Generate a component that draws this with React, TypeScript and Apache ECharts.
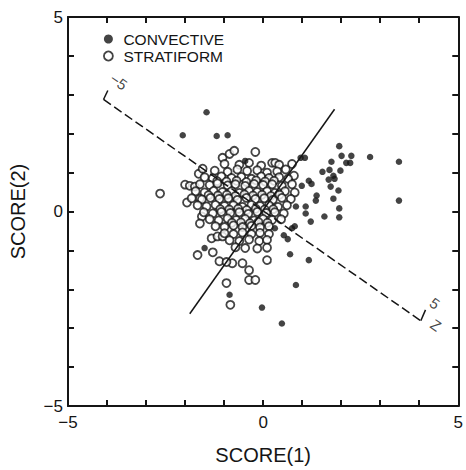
import React, { useEffect, useRef } from "react";
import * as echarts from "echarts";

const labeledTicks = [-5, 0, 5];
const seriesNames = ["CONVECTIVE", "STRATIFORM"];

const convective: number[][] = [
  [1.95, 1.68], [2.01, 1.43], [2.26, 1.43], [2.74, 1.40], [3.48, 1.28], [1.75, 1.28],
  [2.13, 1.25], [2.23, 1.25], [1.52, 1.02], [1.70, 1.07], [1.98, 1.05], [1.80, 0.92],
  [1.68, 0.82], [1.83, 0.84], [0.96, 1.38], [1.07, 1.38], [1.17, 0.79], [1.24, 0.71],
  [0.99, 0.66], [1.73, 0.64], [1.93, 0.54], [1.37, 0.41], [1.35, 0.28], [1.80, 0.33],
  [3.48, 0.28], [1.09, 0.13], [0.84, 0.13], [1.09, -0.05], [1.95, 0.08], [1.57, -0.13],
  [1.95, -0.15], [1.22, -0.26], [0.30, -0.43], [0.53, -0.61], [0.63, -0.71], [0.69, -1.10],
  [1.17, -1.25], [-1.50, -0.94], [-0.86, -2.14], [0.84, -1.89], [-0.03, -2.47], [0.48, -2.88],
  [-1.45, 2.55], [-2.06, 1.96], [-1.19, 1.94], [-0.91, 1.96], [-0.46, 1.30], [0.74, -0.43],
  [0.81, -0.38],
];

const stratiform: number[][] = [
  // outlying points
  [-1.04, 1.38], [-0.86, 1.48], [-0.74, 1.56], [-0.20, 1.53], [0.23, 1.25], [0.31, 1.25],
  [0.74, 1.22], [0.79, 0.92], [-1.65, 0.97], [-1.55, 1.10], [-2.0, 0.69], [-1.88, 0.66],
  [-1.75, 0.64], [-2.64, 0.46], [-1.95, 0.23], [-1.62, 0.33],
  [-0.84, -2.40], [-0.94, -1.84], [-0.36, -1.76], [-0.20, -1.76], [-0.36, -1.51], [0.10, -1.25],
  [-0.79, -1.33], [-0.53, -1.33], [-1.12, -1.28], [-0.94, -1.30], [-1.29, -1.05], [-1.68, -1.12],
  [-1.32, -0.69], [-1.17, -0.64], [-1.04, -0.64], [-1.57, -0.13], [-1.62, -0.31],
  // core
  [-0.99, 1.22], [-0.61, 1.20], [-0.36, 1.25], [-0.05, 1.18], [0.41, 1.20],
  [-1.24, 1.05], [-0.91, 1.02], [-0.66, 1.08], [-0.41, 1.04], [-0.15, 1.06], [0.10, 1.00], [0.36, 1.03], [0.58, 1.08],
  [-1.50, 0.88], [-1.29, 0.85], [-1.07, 0.90], [-0.81, 0.86], [-0.56, 0.89], [-0.30, 0.84], [-0.05, 0.90], [0.15, 0.86], [0.41, 0.88], [0.64, 0.84],
  [-1.18, 0.78], [-0.94, 0.77], [-0.68, 0.79], [-0.43, 0.76], [-0.18, 0.80], [0.05, 0.77], [0.28, 0.79],
  [-1.62, 0.70], [-1.37, 0.68], [-1.17, 0.72], [-0.91, 0.67], [-0.71, 0.70], [-0.46, 0.66], [-0.23, 0.71], [0.0, 0.68], [0.23, 0.70], [0.48, 0.66], [0.74, 0.70],
  [-1.73, 0.52], [-1.50, 0.49], [-1.27, 0.53], [-1.04, 0.50], [-0.81, 0.52], [-0.61, 0.48], [-0.36, 0.53], [-0.15, 0.50], [0.10, 0.52], [0.30, 0.48], [0.56, 0.52], [0.81, 0.49],
  [-1.40, 0.42], [-1.16, 0.41], [-0.93, 0.43], [-0.71, 0.40], [-0.48, 0.44], [-0.26, 0.41], [-0.03, 0.43], [0.20, 0.40], [0.42, 0.43],
  [-1.83, 0.34], [-1.57, 0.31], [-1.35, 0.35], [-1.12, 0.32], [-0.89, 0.34], [-0.66, 0.30], [-0.43, 0.35], [-0.20, 0.32], [0.03, 0.34], [0.25, 0.30], [0.48, 0.35], [0.71, 0.32],
  [-1.68, 0.16], [-1.45, 0.13], [-1.22, 0.17], [-0.99, 0.14], [-0.76, 0.16], [-0.53, 0.12], [-0.30, 0.17], [-0.08, 0.14], [0.15, 0.16], [0.38, 0.12], [0.61, 0.16],
  [-1.10, 0.06], [-0.87, 0.05], [-0.64, 0.07], [-0.42, 0.04], [-0.19, 0.07], [0.04, 0.05], [0.26, 0.06],
  [-1.52, -0.02], [-1.29, -0.05], [-1.07, -0.01], [-0.84, -0.04], [-0.61, -0.02], [-0.38, -0.06], [-0.15, -0.01], [0.08, -0.04], [0.30, -0.02], [0.53, -0.05],
  [-1.37, -0.20], [-1.14, -0.23], [-0.91, -0.18], [-0.69, -0.22], [-0.46, -0.19], [-0.23, -0.23], [0.0, -0.19], [0.23, -0.22], [0.46, -0.20],
  [-0.80, -0.29], [-0.57, -0.28], [-0.34, -0.30], [-0.12, -0.27], [0.11, -0.29],
  [-1.22, -0.38], [-0.99, -0.40], [-0.76, -0.36], [-0.53, -0.40], [-0.30, -0.37], [-0.08, -0.41], [0.15, -0.38],
  [-0.99, -0.56], [-0.76, -0.58], [-0.53, -0.54], [-0.30, -0.58], [-0.08, -0.55], [0.15, -0.58],
  [-0.86, -0.74], [-0.61, -0.76], [-0.36, -0.72], [-0.10, -0.76], [0.10, -0.73],
  [-0.71, -0.92], [-0.46, -0.94], [-0.15, -0.95], [0.10, -0.93],
];

const solidAxis: number[][] = [[-1.88, -2.63], [1.83, 2.63]];
const dashedAxis: number[][] = [[-4.09, 2.88], [4.04, -2.81]];
const dashedEndTicks: number[][][] = [
  [[-4.09, 2.88], [-3.98, 3.11]],
  [[4.04, -2.81], [4.16, -2.53]],
];
const endLabelPos: number[][] = [[-3.70, 3.34], [4.40, -2.36], [4.43, -2.92]];
const endLabelText = ["\u22125", "5", "Z"];

const INK = "#151515";
const FONT = "'Liberation Sans', Arial, Helvetica, sans-serif";

function fmt(v: number): string {
  if (!labeledTicks.includes(v)) return "";
  return v < 0 ? "\u2212" + Math.abs(v) : String(v);
}

export default function App() {
  const ref = useRef<HTMLDivElement>(null);
  useEffect(() => {
    if (!ref.current) return;
    const chart = echarts.init(ref.current, undefined, { renderer: "svg" });
    const axisCommon = {
      type: "value" as const,
      min: -5,
      max: 5,
      interval: 1,
      axisLine: { show: true, onZero: false, lineStyle: { color: INK, width: 2 } },
      axisTick: { show: true, inside: true, length: 6, lineStyle: { color: INK, width: 2 } },
      splitLine: { show: false },
    };
    const labelStyle = { color: INK, fontSize: 17, fontFamily: FONT };
    chart.setOption({
      animation: false,
      backgroundColor: "#ffffff",
      grid: { left: 67, right: 5, top: 17, bottom: 61 },
      legend: {
        orient: "vertical",
        left: 103,
        top: 31,
        padding: 0,
        itemWidth: 10,
        itemHeight: 9,
        itemGap: 1,
        selectedMode: false,
        textStyle: { color: INK, fontSize: 15.5, fontFamily: FONT, lineHeight: 16, padding: [0, 0, 0, 5] },
        data: [
          { name: seriesNames[0], icon: "circle", itemStyle: { color: INK, borderWidth: 0 } },
          { name: seriesNames[1], icon: "circle", itemStyle: { color: "#fff", borderColor: INK, borderWidth: 1.8 } },
        ],
      },
      xAxis: [
        {
          ...axisCommon,
          position: "bottom",
          axisLabel: { ...labelStyle, margin: 8, formatter: fmt, showMaxLabel: true, showMinLabel: true },
          name: "SCORE(1)",
          nameLocation: "middle",
          nameGap: 39,
          nameTextStyle: { color: INK, fontSize: 20, fontFamily: FONT },
        },
        { ...axisCommon, position: "top", axisLabel: { show: false } },
      ],
      yAxis: [
        {
          ...axisCommon,
          position: "left",
          axisLabel: { ...labelStyle, margin: 5, formatter: fmt, showMaxLabel: true, showMinLabel: true },
          name: "SCORE(2)",
          nameLocation: "middle",
          nameGap: 40,
          nameRotate: 90,
          nameTextStyle: { color: INK, fontSize: 20, fontFamily: FONT },
        },
        { ...axisCommon, position: "right", axisLabel: { show: false } },
      ],
      series: [
        {
          name: seriesNames[0],
          type: "scatter",
          data: convective,
          symbol: "circle",
          symbolSize: 6.5,
          itemStyle: { color: INK },
          z: 4,
        },
        {
          name: seriesNames[1],
          type: "scatter",
          data: stratiform,
          symbol: "circle",
          symbolSize: 8,
          itemStyle: { color: "#fff", borderColor: INK, borderWidth: 1.8 },
          z: 3,
        },
        {
          name: "solid",
          type: "line",
          data: solidAxis,
          symbol: "none",
          lineStyle: { color: INK, width: 1.5 },
          z: 5,
          silent: true,
        },
        {
          name: "dashed",
          type: "line",
          data: dashedAxis,
          symbol: "none",
          lineStyle: { color: INK, width: 1.5, type: [9, 4] },
          z: 5,
          silent: true,
        },
        ...dashedEndTicks.map((seg, i) => ({
          name: "tick" + i,
          type: "line",
          data: seg,
          symbol: "none",
          lineStyle: { color: INK, width: 1.5 },
          z: 5,
          silent: true,
        })),
        {
          name: "endLabels",
          type: "scatter",
          symbolSize: 0,
          data: endLabelPos.map((p, i) => ({ value: p, name: endLabelText[i] })),
          label: {
            show: true,
            position: "inside",
            formatter: (p: any) => p.name,
            rotate: -35,
            color: INK,
            fontSize: 15,
            fontFamily: FONT,
          },
          z: 6,
          silent: true,
        },
      ],
    });
    return () => chart.dispose();
  }, []);
  return (
    <div
      ref={ref}
      style={{ position: "fixed", left: 0, top: 0, width: 466, height: 470, background: "#fff" }}
    />
  );
}
